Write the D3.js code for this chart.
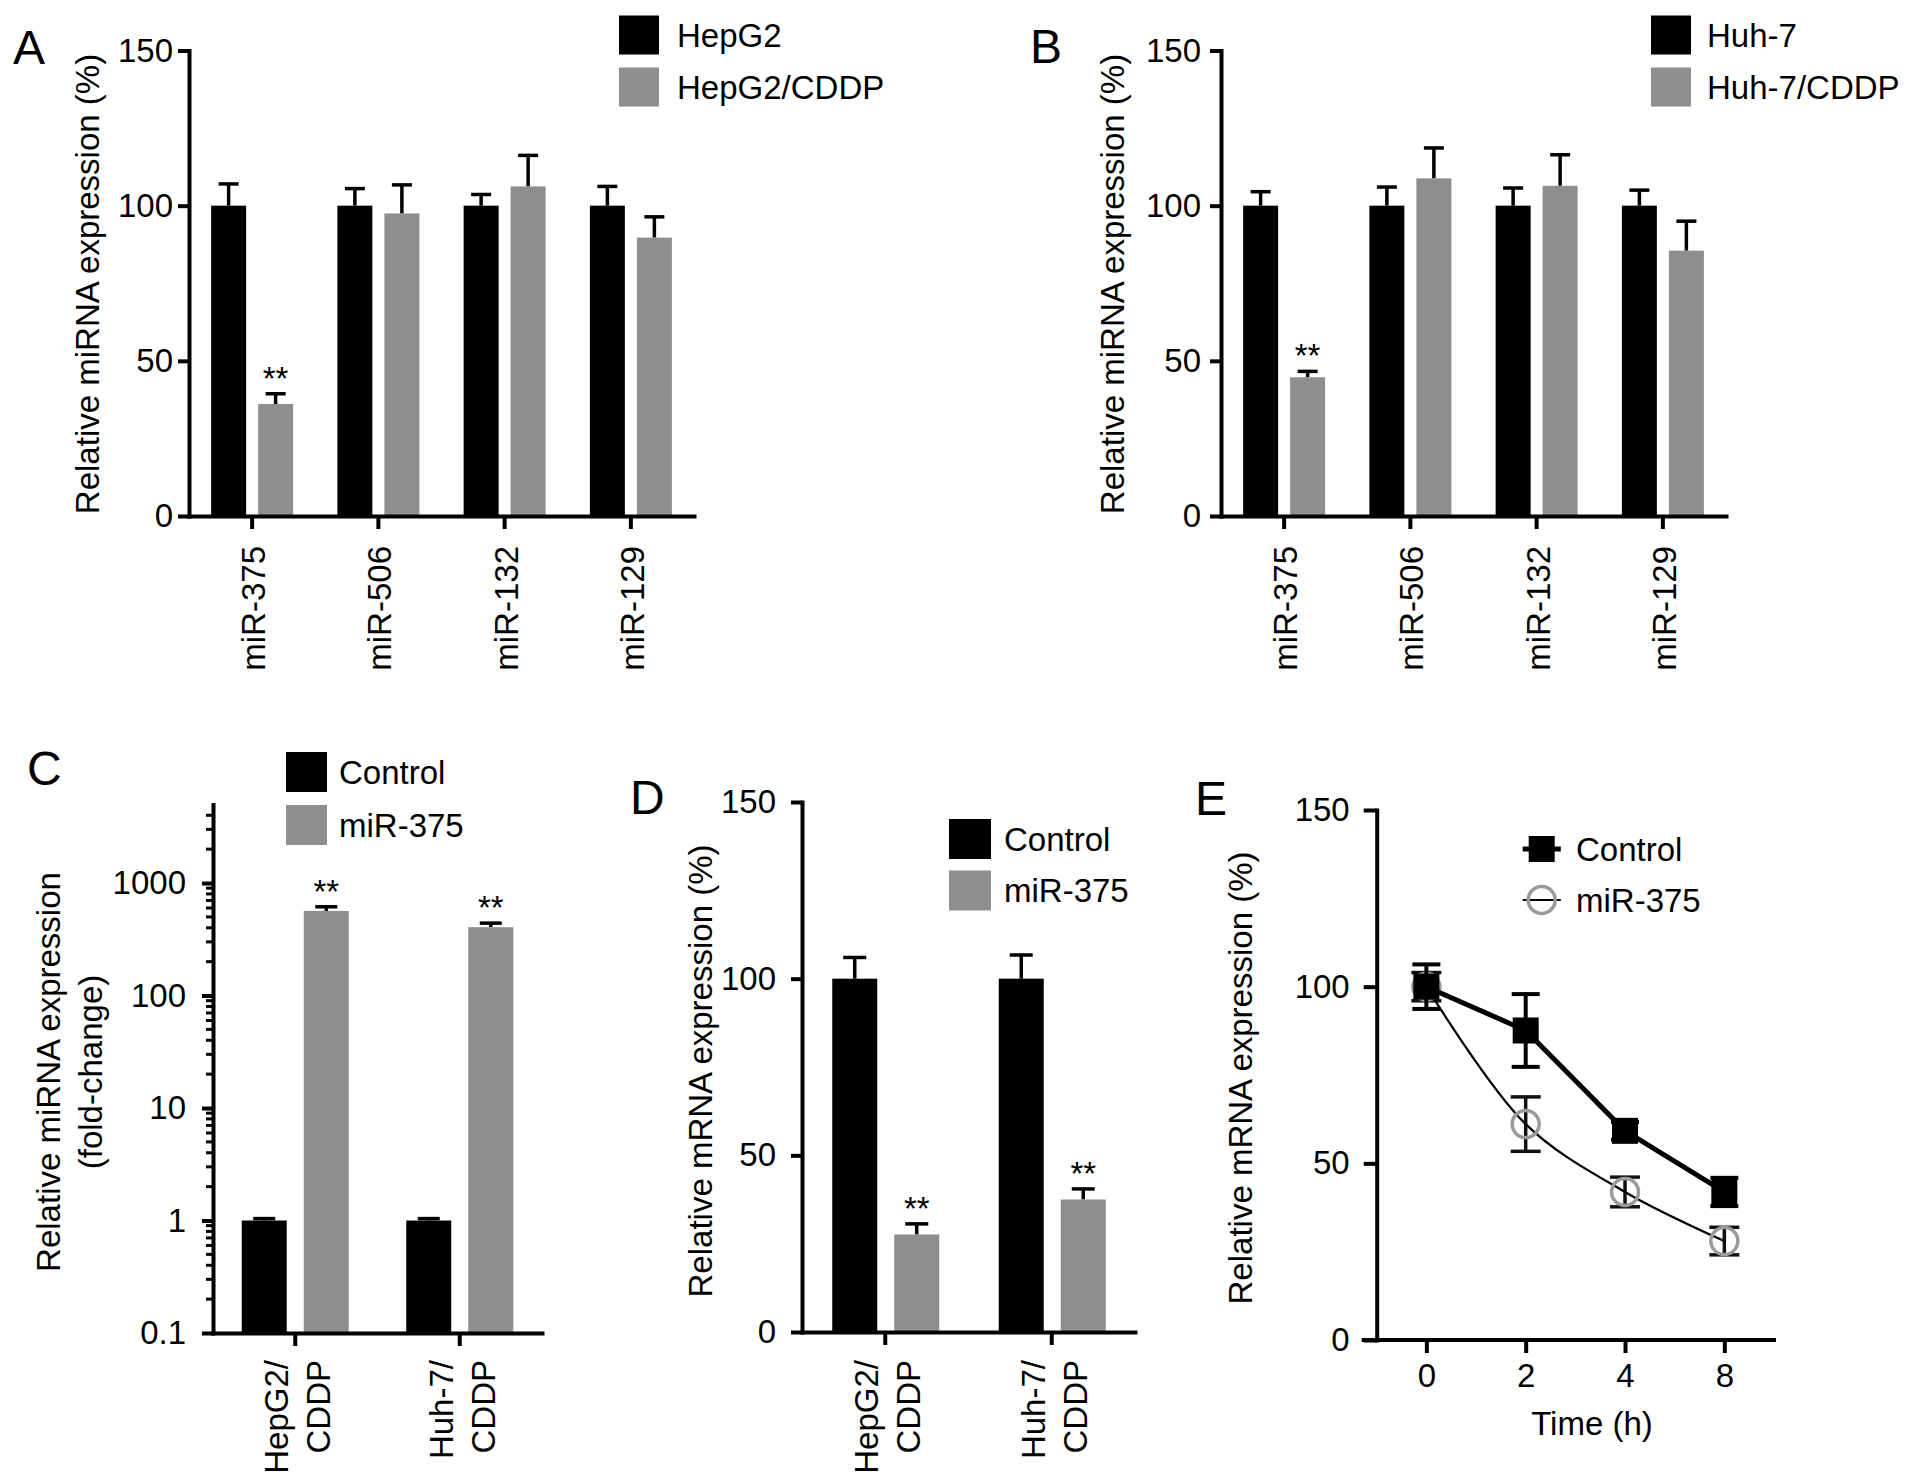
<!DOCTYPE html>
<html><head><meta charset="utf-8">
<script src="https://cdn.jsdelivr.net/npm/d3@7"></script>
<style>
body{margin:0;background:#fff}
svg text{font-family:"Liberation Sans",Arial,Helvetica,sans-serif;fill:#000}
</style>
</head><body>
<svg id="chart" width="1913" height="1483"></svg>
<script>
// ---------- DATA ----------
const mirCategories = ["miR-375", "miR-506", "miR-132", "miR-129"];
const hepg2Values = [100, 100, 100, 100];
const hepg2Errors = [7, 5.5, 3.6, 6.2];
const hepg2CddpValues = [36.1, 97.5, 106.2, 89.7];
const hepg2CddpErrors = [3.3, 9.2, 10, 6.7];
const hepg2CddpSig = ["**", "", "", ""];
const huh7Values = [100, 100, 100, 100];
const huh7Errors = [4.5, 6, 5.7, 5];
const huh7CddpValues = [44.7, 108.8, 106.4, 85.5];
const huh7CddpErrors = [1.9, 9.8, 10, 9.5];
const huh7CddpSig = ["**", "", "", ""];
const percentTicks = [0, 50, 100, 150];

const cellCategories = [["HepG2/", "CDDP"], ["Huh-7/", "CDDP"]];
const foldControlValues = [1, 1];
const foldControlErrors = [0.04, 0.04];
const foldMirValues = [565, 405];
const foldMirErrors = [50, 35];
const foldSig = ["**", "**"];
const logTicks = [0.1, 1, 10, 100, 1000];

const mrnaControlValues = [100, 100];
const mrnaControlErrors = [6, 6.7];
const mrnaMirValues = [27.6, 37.5];
const mrnaMirErrors = [3, 3];
const mrnaSig = ["**", "**"];

const timeLabels = ["0", "2", "4", "8"];
const timeControlValues = [100, 87.6, 59.2, 41.9];
const timeControlErrors = [6.3, 10.3, 2.5, 4];
const timeMirValues = [100, 61.1, 41.9, 28];
const timeMirErrors = [4, 7.7, 4.2, 3.9];

// ---------- STYLE ----------
const FONT = 33;
const BLACK = "#000000";
const GRAY = "#8e8e8e";
const CIRCLE_GRAY = "#9a9a9a";
const svg = d3.select("#chart");
svg.append("rect").attr("width", 1913).attr("height", 1483).attr("fill", "#fff");

function styleAxis(a) {
  a.attr("font-family", null);
  a.select(".domain").attr("stroke", BLACK).attr("stroke-width", 4).attr("stroke-linecap", "square");
  a.selectAll(".tick line").attr("stroke", BLACK).attr("stroke-width", 4);
  a.selectAll(".tick text").attr("font-size", FONT).attr("fill", BLACK);
}
function panelLetter(t, x, y) {
  svg.append("text").attr("x", x).attr("y", y).attr("font-size", 48).text(t);
}
function yLabel(lines, xs, cy) {
  lines.forEach((t, i) => {
    svg.append("text").attr("transform", `translate(${xs[i]},${cy}) rotate(-90)`)
      .attr("text-anchor", "middle").attr("font-size", FONT).text(t);
  });
}
function boxLegend(items, x, yTop, w, h, gap, textX) {
  const g = svg.append("g");
  g.selectAll("rect").data(items).join("rect")
    .attr("x", x).attr("y", (d, i) => yTop + i * gap).attr("width", w).attr("height", h)
    .attr("fill", d => d.color);
  g.selectAll("text").data(items).join("text")
    .attr("x", textX).attr("y", (d, i) => yTop + i * gap + h / 2 + 11.5)
    .attr("font-size", FONT).text(d => d.label);
}

function barPanel(cfg) {
  const g = svg.append("g");
  const y = cfg.y;
  const x = d3.scaleBand().domain(d3.range(cfg.categories.length)).range([cfg.x0, cfg.x1]);
  const cxOf = (i, off) => x(i) + x.bandwidth() / 2 + off;
  cfg.series.forEach(s => {
    const data = s.values.map((v, i) => ({ i, v, e: s.errors[i], sig: s.sig ? s.sig[i] : "" }));
    g.selectAll(null).data(data).join("line")
      .attr("x1", d => cxOf(d.i, s.offset)).attr("x2", d => cxOf(d.i, s.offset))
      .attr("y1", d => y(d.v)).attr("y2", d => y(d.v + d.e))
      .attr("stroke", BLACK).attr("stroke-width", 3.5);
    g.selectAll(null).data(data).join("line")
      .attr("x1", d => cxOf(d.i, s.offset) - cfg.cap / 2).attr("x2", d => cxOf(d.i, s.offset) + cfg.cap / 2)
      .attr("y1", d => y(d.v + d.e)).attr("y2", d => y(d.v + d.e))
      .attr("stroke", BLACK).attr("stroke-width", 3.5);
    g.selectAll(null).data(data).join("rect")
      .attr("x", d => cxOf(d.i, s.offset) - cfg.barW / 2).attr("width", cfg.barW)
      .attr("y", d => y(d.v)).attr("height", d => cfg.yBase - y(d.v))
      .attr("fill", s.color);
    g.selectAll(null).data(data.filter(d => d.sig)).join("text")
      .attr("x", d => cxOf(d.i, s.offset)).attr("y", d => y(d.v + d.e) - 4)
      .attr("text-anchor", "middle").attr("font-size", FONT).text(d => d.sig);
  });
  const yAx = d3.axisLeft(y).tickValues(cfg.yTicks).tickSize(11).tickSizeOuter(0)
    .tickPadding(cfg.pad).tickFormat(d => String(d));
  const ya = g.append("g").attr("transform", `translate(${cfg.x0},0)`).call(yAx);
  styleAxis(ya);
  if (cfg.minor) {
    ya.selectAll(".minor").data(cfg.minor).join("line").attr("class", "minor")
      .attr("x1", -7).attr("x2", 0).attr("y1", d => y(d)).attr("y2", d => y(d))
      .attr("stroke", BLACK).attr("stroke-width", 3);
  }
  const xa = g.append("g").attr("transform", `translate(0,${cfg.yBase})`)
    .call(d3.axisBottom(x).tickSize(13).tickSizeOuter(0).tickFormat(""));
  styleAxis(xa);
  cfg.categories.forEach((lab, i) => {
    const lines = Array.isArray(lab) ? lab : [lab];
    const offs = lines.length === 1 ? [13] : [-7, 35];
    lines.forEach((t, k) => {
      g.append("text").attr("transform", `translate(${cxOf(i, 0) + offs[k]},${cfg.yBase + cfg.labelGap}) rotate(-90)`)
        .attr("text-anchor", "end").attr("font-size", FONT).text(t);
    });
  });
}

// ---------- PANEL A ----------
const yA = d3.scaleLinear().domain([0, 150]).range([516, 50.5]);
barPanel({
  x0: 189, x1: 694, y: yA, yBase: 516, yTicks: percentTicks, pad: 5, barW: 35, cap: 20, labelGap: 30,
  categories: mirCategories,
  series: [
    { values: hepg2Values, errors: hepg2Errors, color: BLACK, offset: -23.5 },
    { values: hepg2CddpValues, errors: hepg2CddpErrors, color: GRAY, offset: 23.5, sig: hepg2CddpSig }
  ]
});
panelLetter("A", 13, 64);
yLabel(["Relative miRNA expression (%)"], [99], 284);
boxLegend([{ label: "HepG2", color: BLACK }, { label: "HepG2/CDDP", color: GRAY }], 619, 15.5, 40, 39, 52, 677);

// ---------- PANEL B ----------
barPanel({
  x0: 1221, x1: 1726, y: yA, yBase: 516, yTicks: percentTicks, pad: 9, barW: 35, cap: 20, labelGap: 30,
  categories: mirCategories,
  series: [
    { values: huh7Values, errors: huh7Errors, color: BLACK, offset: -23.5 },
    { values: huh7CddpValues, errors: huh7CddpErrors, color: GRAY, offset: 23.5, sig: huh7CddpSig }
  ]
});
panelLetter("B", 1030, 63);
yLabel(["Relative miRNA expression (%)"], [1124], 284);
boxLegend([{ label: "Huh-7", color: BLACK }, { label: "Huh-7/CDDP", color: GRAY }], 1651, 15.5, 40, 39, 52, 1707);

// ---------- PANEL C ----------
const yC = d3.scaleLog().domain([0.1, 5000]).range([1333, 804.4]);
const minorC = [];
[0.1, 1, 10, 100].forEach(dec => { for (let m = 2; m <= 9; m++) minorC.push(dec * m); });
[2000, 3000, 4000].forEach(v => minorC.push(v));
barPanel({
  x0: 213, x1: 542, y: yC, yBase: 1333, yTicks: logTicks, pad: 16, barW: 45, cap: 22, labelGap: 27,
  categories: cellCategories, minor: minorC,
  series: [
    { values: foldControlValues, errors: foldControlErrors, color: BLACK, offset: -31 },
    { values: foldMirValues, errors: foldMirErrors, color: GRAY, offset: 31, sig: foldSig }
  ]
});
panelLetter("C", 27, 785);
yLabel(["Relative miRNA expression", "(fold-change)"], [60, 102], 1072);
boxLegend([{ label: "Control", color: BLACK }, { label: "miR-375", color: GRAY }], 286, 752, 41, 40, 53, 339);

// ---------- PANEL D ----------
const yD = d3.scaleLinear().domain([0, 150]).range([1332, 802]);
barPanel({
  x0: 802, x1: 1135, y: yD, yBase: 1332, yTicks: percentTicks, pad: 15, barW: 45, cap: 23, labelGap: 28,
  categories: cellCategories,
  series: [
    { values: mrnaControlValues, errors: mrnaControlErrors, color: BLACK, offset: -30.5 },
    { values: mrnaMirValues, errors: mrnaMirErrors, color: GRAY, offset: 31.5, sig: mrnaSig }
  ]
});
panelLetter("D", 630, 814);
yLabel(["Relative mRNA expression (%)"], [712], 1071);
boxLegend([{ label: "Control", color: BLACK }, { label: "miR-375", color: GRAY }], 949, 819, 42, 40, 51.5, 1004);

// ---------- PANEL E ----------
const gE = svg.append("g");
const xE = d3.scalePoint().domain(timeLabels).range([1376.7, 1774]).padding(0.5);
const yE = d3.scaleLinear().domain([0, 150]).range([1340, 810]);
const mirPts = timeLabels.map((t, i) => ({ t, v: timeMirValues[i], e: timeMirErrors[i] }));
const ctrlPts = timeLabels.map((t, i) => ({ t, v: timeControlValues[i], e: timeControlErrors[i] }));

function errBars(pts, color, sw, cap) {
  gE.selectAll(null).data(pts).join("line")
    .attr("x1", d => xE(d.t)).attr("x2", d => xE(d.t))
    .attr("y1", d => yE(d.v + d.e)).attr("y2", d => yE(d.v - d.e))
    .attr("stroke", color).attr("stroke-width", sw);
  [1, -1].forEach(s => {
    gE.selectAll(null).data(pts).join("line")
      .attr("x1", d => xE(d.t) - cap / 2).attr("x2", d => xE(d.t) + cap / 2)
      .attr("y1", d => yE(d.v + s * d.e)).attr("y2", d => yE(d.v + s * d.e))
      .attr("stroke", color).attr("stroke-width", sw);
  });
}
errBars(mirPts, "#111", 3.5, 30);
gE.append("path").datum(mirPts)
  .attr("d", d3.line().x(d => xE(d.t)).y(d => yE(d.v)).curve(d3.curveCatmullRom.alpha(0.5)))
  .attr("fill", "none").attr("stroke", BLACK).attr("stroke-width", 2.2);
gE.selectAll(null).data(mirPts).join("circle")
  .attr("cx", d => xE(d.t)).attr("cy", d => yE(d.v)).attr("r", 13.5)
  .attr("fill", "none").attr("stroke", CIRCLE_GRAY).attr("stroke-width", 3.5);
gE.append("path").datum(ctrlPts)
  .attr("d", d3.line().x(d => xE(d.t)).y(d => yE(d.v)))
  .attr("fill", "none").attr("stroke", BLACK).attr("stroke-width", 5);
errBars(ctrlPts, BLACK, 4, 28);
gE.selectAll(null).data(ctrlPts).join("rect")
  .attr("x", d => xE(d.t) - 13).attr("y", d => yE(d.v) - 13).attr("width", 26).attr("height", 26)
  .attr("fill", BLACK);
const yaE = gE.append("g").attr("transform", "translate(1376.7,0)")
  .call(d3.axisLeft(yE).tickValues(percentTicks).tickSize(13).tickSizeOuter(0).tickPadding(14));
styleAxis(yaE);
const xaE = gE.append("g").attr("transform", "translate(0,1340)")
  .call(d3.axisBottom(xE).tickSize(13).tickSizeOuter(0).tickPadding(11));
styleAxis(xaE);
xaE.select(".domain").attr("d", `M${1376.7 - 13},0H1774`);
gE.append("text").attr("x", 1592).attr("y", 1435).attr("text-anchor", "middle")
  .attr("font-size", FONT).text("Time (h)");
panelLetter("E", 1195, 815);
yLabel(["Relative mRNA expression (%)"], [1252], 1078);
const legE = [
  { label: "Control", y: 849, kind: "square" },
  { label: "miR-375", y: 900, kind: "circle" }
];
legE.forEach(l => {
  gE.append("line").attr("x1", 1522.7).attr("x2", 1560.8).attr("y1", l.y).attr("y2", l.y)
    .attr("stroke", BLACK).attr("stroke-width", l.kind === "square" ? 5 : 2.2);
  if (l.kind === "square") {
    gE.append("rect").attr("x", 1541.7 - 13).attr("y", l.y - 13).attr("width", 26).attr("height", 26).attr("fill", BLACK);
  } else {
    gE.append("circle").attr("cx", 1541.7).attr("cy", l.y).attr("r", 13.5)
      .attr("fill", "none").attr("stroke", CIRCLE_GRAY).attr("stroke-width", 3.5);
  }
  gE.append("text").attr("x", 1576).attr("y", l.y + 11.5).attr("font-size", FONT).text(l.label);
});
</script>
</body></html>
